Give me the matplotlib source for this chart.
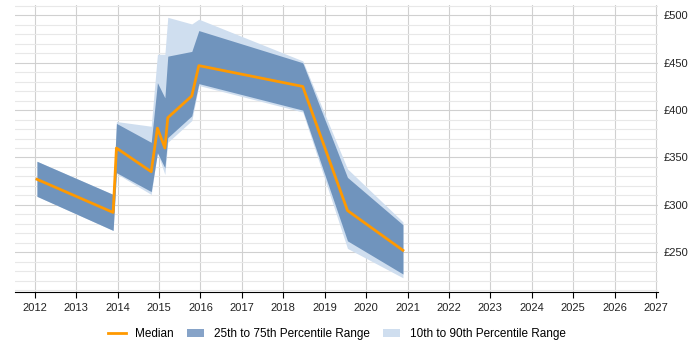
import matplotlib
matplotlib.use("Agg")
import matplotlib.pyplot as plt
from matplotlib.patches import Patch
from matplotlib.lines import Line2D
from matplotlib.ticker import MultipleLocator, FuncFormatter

plt.rcParams['font.family'] = ['Liberation Sans', 'DejaVu Sans']

# data
years = [2012.05, 2013.89, 2013.97, 2014.81, 2014.96, 2015.14, 2015.21, 2015.79, 2015.96, 2018.47, 2019.55, 2020.89]
median = [327, 292, 360, 335, 381, 360, 392, 415, 447, 425, 294, 252]
p25 = [309, 273, 334, 314, 355, 339, 371, 394, 428, 400, 262, 227]
p75 = [346, 311, 386, 366, 429, 413, 457, 462, 484, 450, 329, 279]
p10 = [309, 273, 333, 311, 355, 332, 366, 389, 426, 398, 254, 223]
p90 = [346, 311, 388, 383, 459, 459, 498, 491, 496, 452, 338, 282]

fig = plt.figure(figsize=(7, 3.5), dpi=100)
# plot area: x 15..658 px, y 5..292 px
ax = fig.add_axes([15 / 700, 1 - 292 / 350, 643 / 700, 287 / 350])

ax.fill_between(years, p10, p90, color='#cfdeef', linewidth=0, zorder=2)
ax.fill_between(years, p25, p75, color='#7094bd', linewidth=0, zorder=3)
ax.plot(years, median, color='#ff9900', linewidth=2, zorder=4)

ax.set_xlim(2011.52, 2027.05)
ax.set_ylim(208, 511)
ax.xaxis.set_major_locator(MultipleLocator(1))
ax.yaxis.set_major_locator(MultipleLocator(50))
ax.yaxis.set_minor_locator(MultipleLocator(10))
ax.yaxis.set_major_formatter(FuncFormatter(lambda v, p: '£%d' % v))
ax.yaxis.tick_right()
ax.grid(which='major', color='#d0d0d0', linewidth=0.8, zorder=0)
ax.grid(which='minor', axis='y', color='#e8e8e8', linewidth=0.8, zorder=0)
ax.set_axisbelow(True)
for s in ['top', 'left', 'right']:
    ax.spines[s].set_visible(False)
ax.spines['bottom'].set_color('#000000')
ax.tick_params(axis='x', length=4, color='#000000', labelsize=8, pad=4, labelcolor='#222222')
ax.tick_params(axis='y', which='both', length=0, labelsize=8, pad=4, labelcolor='#222222')

handles = [Line2D([], [], color='#ff9900', linewidth=2),
           Patch(color='#86a3c8', linewidth=0),
           Patch(color='#cfdeef', linewidth=0)]
labels = ['Median', '25th to 75th Percentile Range', '10th to 90th Percentile Range']
fig.legend(handles, labels, loc='center', bbox_to_anchor=(0.481, 0.045), ncol=3,
           frameon=False, fontsize=8.5, handlelength=1.5, columnspacing=1.1, handletextpad=0.8)

fig.savefig('out.png', dpi=100)
